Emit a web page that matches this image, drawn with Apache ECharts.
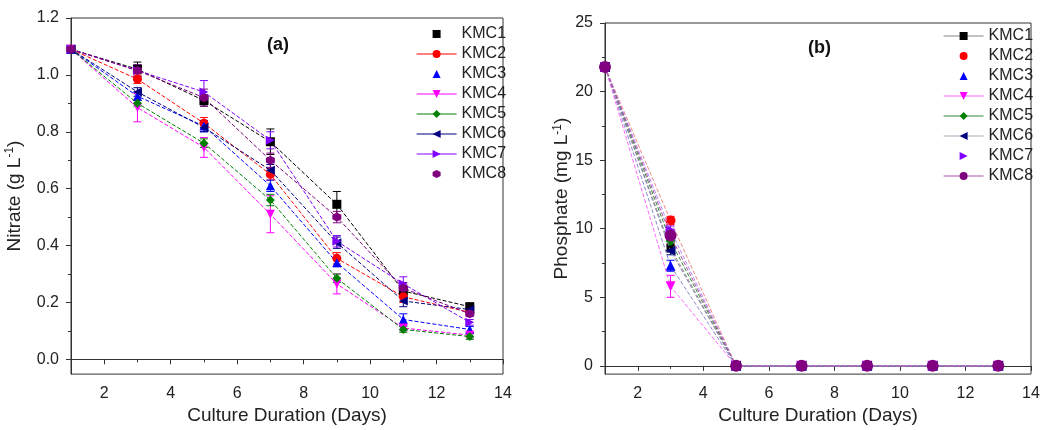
<!DOCTYPE html>
<html>
<head>
<meta charset="utf-8">
<script src="https://cdn.jsdelivr.net/npm/echarts@6/dist/echarts.min.js"></script>
<style>
  html, body { margin: 0; padding: 0; background: #fff; }
  #chart { width: 1050px; height: 430px; }
</style>
</head>
<body>
<div id="chart"></div>
<script>
// data
var days = [1, 3, 5, 7, 9, 11, 13];
var names = ['KMC1', 'KMC2', 'KMC3', 'KMC4', 'KMC5', 'KMC6', 'KMC7', 'KMC8'];

// (a) nitrate, g/L
var nitKMC1 = [1.09, 1.02, 0.91, 0.765, 0.545, 0.24, 0.185];
var nitKMC2 = [1.09, 0.985, 0.83, 0.65, 0.355, 0.22, 0.165];
var nitKMC3 = [1.09, 0.925, 0.82, 0.61, 0.34, 0.14, 0.105];
var nitKMC4 = [1.09, 0.885, 0.745, 0.51, 0.265, 0.11, 0.085];
var nitKMC5 = [1.09, 0.90, 0.76, 0.56, 0.285, 0.105, 0.08];
var nitKMC6 = [1.09, 0.94, 0.815, 0.665, 0.41, 0.205, 0.175];
var nitKMC7 = [1.09, 1.015, 0.94, 0.77, 0.415, 0.265, 0.13];
var nitKMC8 = [1.09, 1.015, 0.92, 0.70, 0.50, 0.25, 0.16];
// error (half width)
var nitErr1 = [0, 0.025, 0.02, 0.045, 0.045, 0.02, 0.012];
var nitErr2 = [0, 0.015, 0.02, 0.02, 0.02, 0.02, 0.01];
var nitErr3 = [0, 0.015, 0.02, 0.02, 0.015, 0.02, 0.01];
var nitErr4 = [0, 0.05, 0.035, 0.065, 0.035, 0.01, 0.01];
var nitErr5 = [0, 0.01, 0.015, 0.02, 0.015, 0.01, 0.01];
var nitErr6 = [0, 0.015, 0.015, 0.02, 0.02, 0.02, 0.01];
var nitErr7 = [0, 0.02, 0.04, 0.03, 0.02, 0.025, 0.01];
var nitErr8 = [0, 0.02, 0.03, 0.025, 0.02, 0.02, 0.01];

// (b) phosphate, mg/L
var phoKMC1 = [21.8, 8.6, 0, 0, 0, 0, 0];
var phoKMC2 = [21.8, 10.6, 0, 0, 0, 0, 0];
var phoKMC3 = [21.8, 7.3, 0, 0, 0, 0, 0];
var phoKMC4 = [21.8, 5.8, 0, 0, 0, 0, 0];
var phoKMC5 = [21.8, 9.1, 0, 0, 0, 0, 0];
var phoKMC6 = [21.8, 8.4, 0, 0, 0, 0, 0];
var phoKMC7 = [21.8, 9.9, 0, 0, 0, 0, 0];
var phoKMC8 = [21.8, 9.5, 0, 0, 0, 0, 0];
var phoErr1 = [0, 0.3, 0, 0, 0, 0, 0];
var phoErr2 = [0, 0.3, 0, 0, 0, 0, 0];
var phoErr3 = [0, 0.4, 0, 0, 0, 0, 0];
var phoErr4 = [0, 0.8, 0, 0, 0, 0, 0];
var phoErr5 = [0, 0.3, 0, 0, 0, 0, 0];
var phoErr6 = [0, 0.3, 0, 0, 0, 0, 0];
var phoErr7 = [0, 0.3, 0, 0, 0, 0, 0];
var phoErr8 = [0, 0.3, 0, 0, 0, 0, 0];

// tick labels
var xTicks = [2, 4, 6, 8, 10, 12, 14];
var xMinor = [1, 3, 5, 7, 9, 11, 13];
var yTicksA = [0, 0.2, 0.4, 0.6, 0.8, 1.0, 1.2];
var yMinorA = [0.1, 0.3, 0.5, 0.7, 0.9, 1.1];
var yTicksB = [0, 5, 10, 15, 20, 25];
var yMinorB = [2.5, 7.5, 12.5, 17.5, 22.5];

var nitrate = [nitKMC1, nitKMC2, nitKMC3, nitKMC4, nitKMC5, nitKMC6, nitKMC7, nitKMC8];
var nitErr = [nitErr1, nitErr2, nitErr3, nitErr4, nitErr5, nitErr6, nitErr7, nitErr8];
var phosphate = [phoKMC1, phoKMC2, phoKMC3, phoKMC4, phoKMC5, phoKMC6, phoKMC7, phoKMC8];
var phoErr = [phoErr1, phoErr2, phoErr3, phoErr4, phoErr5, phoErr6, phoErr7, phoErr8];

var colors = ['#000000', '#ff0000', '#0000ff', '#ff00ff', '#008000', '#000080', '#8000ff', '#800080'];
var hexagon = 'path://M5,0 L9.5,2.6 L9.5,7.8 L5,10.4 L0.5,7.8 L0.5,2.6 Z';
var symbolsA = ['rect', 'circle', 'triangle', 'triangle', 'diamond', 'triangle', 'triangle', hexagon];
var symbolsB = ['rect', 'circle', 'triangle', 'triangle', 'diamond', 'triangle', 'triangle', 'circle'];
var sizesB = [8, 10, 10, 10, 10, 10, 10, 12];
var rotates = [0, 0, 0, 180, 0, 90, -90, 0];
var lineColorsB = ['#888', '#e88', '#88c', '#f6f', '#383', '#88a', '#b8f', '#a5a'];
var legendLineA = [false, true, false, true, true, true, true, false];
var legendLineB = [true, false, false, true, true, true, false, true];

var font = 'Liberation Sans, Arial, sans-serif';
var chart = echarts.init(document.getElementById('chart'));

function pairs(vals) {
  return days.map(function (d, i) { return [d, vals[i]]; });
}
function errRows(vals, err) {
  var rows = [];
  days.forEach(function (d, i) {
    if (err[i] > 0) rows.push([d, vals[i] - err[i], vals[i] + err[i]]);
  });
  return rows;
}
function renderErr(params, api) {
  var x = api.value(0);
  var p1 = api.coord([x, api.value(1)]);
  var p2 = api.coord([x, api.value(2)]);
  var w = 4;
  var st = { stroke: api.visual('color'), lineWidth: 1 };
  return {
    type: 'group',
    children: [
      { type: 'line', shape: { x1: p1[0], y1: p1[1], x2: p2[0], y2: p2[1] }, style: st },
      { type: 'line', shape: { x1: p1[0] - w, y1: p1[1], x2: p1[0] + w, y2: p1[1] }, style: st },
      { type: 'line', shape: { x1: p2[0] - w, y1: p2[1], x2: p2[0] + w, y2: p2[1] }, style: st }
    ]
  };
}

var series = [];
var errSeries = [];
names.forEach(function (n, i) {
  series.push({
    name: n, type: 'line', xAxisIndex: 0, yAxisIndex: 0,
    data: pairs(nitrate[i]),
    symbol: symbolsA[i], symbolSize: 9, symbolRotate: rotates[i],
    itemStyle: { color: colors[i] },
    lineStyle: { color: colors[i], width: 1, type: [4, 2] },
    z: 3
  });
  errSeries.push({
    name: n, type: 'custom', xAxisIndex: 0, yAxisIndex: 0,
    data: errRows(nitrate[i], nitErr[i]),
    encode: { x: 0, y: [1, 2] },
    renderItem: renderErr,
    itemStyle: { color: colors[i] },
    z: 2
  });
});
names.forEach(function (n, i) {
  series.push({
    name: n + ' ', type: 'line', xAxisIndex: 2, yAxisIndex: 2,
    data: pairs(phosphate[i]),
    symbol: symbolsB[i], symbolSize: sizesB[i], symbolRotate: rotates[i],
    itemStyle: { color: colors[i] },
    lineStyle: { color: lineColorsB[i], width: 1, type: [4, 2] },
    z: 3 + i * 0.1
  });
  errSeries.push({
    name: n + ' ', type: 'custom', xAxisIndex: 2, yAxisIndex: 2,
    data: errRows(phosphate[i], phoErr[i]),
    encode: { x: 0, y: [1, 2] },
    renderItem: renderErr,
    itemStyle: { color: colors[i] },
    z: 2
  });
});

function xAxes(grid) {
  return [{
    type: 'value', gridIndex: grid, min: 1, max: 14, position: 'bottom',
    name: 'Culture Duration (Days)', nameLocation: 'middle', nameGap: 28,
    nameTextStyle: { fontFamily: font, fontSize: 19, color: '#222' },
    axisLine: { show: true, lineStyle: { color: '#333' } },
    axisTick: { show: true, length: 5, customValues: xTicks, lineStyle: { color: '#333' } },
    axisLabel: { customValues: xTicks, fontFamily: font, fontSize: 16, color: '#222', margin: 11 },
    splitLine: { show: false }
  }, {
    type: 'value', gridIndex: grid, min: 1, max: 14, position: 'bottom',
    axisLine: { show: false },
    axisTick: { show: true, length: 3, customValues: xMinor, lineStyle: { color: '#333' } },
    axisLabel: { show: false },
    splitLine: { show: false }
  }];
}
function yAxes(grid, min, max, ticks, minor, nameRich, gap, fmt) {
  return [{
    type: 'value', gridIndex: grid, min: min, max: max, position: 'left',
    name: nameRich, nameLocation: 'middle', nameGap: gap,
    nameTextStyle: {
      fontFamily: font, fontSize: 19, color: '#222',
      rich: {
        t: { fontFamily: font, fontSize: 19, color: '#222' },
        s: { fontFamily: font, fontSize: 12, color: '#222', verticalAlign: 'top', padding: [0, 0, 9, 0] }
      }
    },
    axisLine: { show: true, lineStyle: { color: '#333' } },
    axisTick: { show: true, length: 5, customValues: ticks, lineStyle: { color: '#333' } },
    axisLabel: { customValues: ticks, formatter: fmt, fontFamily: font, fontSize: 16, color: '#222', margin: 12 },
    splitLine: { show: false }
  }, {
    type: 'value', gridIndex: grid, min: min, max: max, position: 'left',
    axisLine: { show: false },
    axisTick: { show: true, length: 3, customValues: minor, lineStyle: { color: '#333' } },
    axisLabel: { show: false },
    splitLine: { show: false }
  }];
}

function legendData(suffix, lineOn, lineCols) {
  return names.map(function (n, i) {
    return {
      name: n + suffix,
      lineStyle: { type: 'solid', width: 1.2, color: lineCols[i], opacity: lineOn[i] ? 1 : 0 }
    };
  });
}

var option = {
  animation: false,
  backgroundColor: '#ffffff',
  grid: [
    { left: 71, right: 547, top: 18, bottom: 53, show: true, borderColor: '#333', borderWidth: 1 },
    { left: 605, right: 19, top: 23, bottom: 55, show: true, borderColor: '#333', borderWidth: 1 }
  ],
  title: [
    { text: '(a)', left: 262, top: 31, textStyle: { fontFamily: font, fontSize: 18, fontWeight: 'bold', color: '#111' } },
    { text: '(b)', left: 803, top: 34, textStyle: { fontFamily: font, fontSize: 18, fontWeight: 'bold', color: '#111' } }
  ],
  legend: [{
    orient: 'vertical', left: 411, top: 21, itemWidth: 40, itemHeight: 10, itemGap: 4,
    textStyle: { fontFamily: font, fontSize: 16, color: '#222' },
    data: legendData('', legendLineA, colors)
  }, {
    orient: 'vertical', left: 938, top: 23, itemWidth: 40, itemHeight: 10, itemGap: 4,
    textStyle: { fontFamily: font, fontSize: 16, color: '#222' },
    formatter: function (n) { return n.trim(); },
    data: legendData(' ', legendLineB, ['#888', '#f99', '#88c', '#f6f', '#383', '#aab', '#b8f', '#a5a'])
  }],
  xAxis: xAxes(0).concat(xAxes(1)),
  yAxis: yAxes(0, -0.052, 1.2, yTicksA, yMinorA, '{t|Nitrate (g L}{s|-1}{t|)}', 46,
      function (v) { return v.toFixed(1); })
    .concat(yAxes(1, -0.6, 25, yTicksB, yMinorB, '{t|Phosphate (mg L}{s|-1}{t|)}', 32,
      function (v) { return String(v); })),
  series: series.concat(errSeries)
};
chart.setOption(option);
</script>
</body>
</html>
